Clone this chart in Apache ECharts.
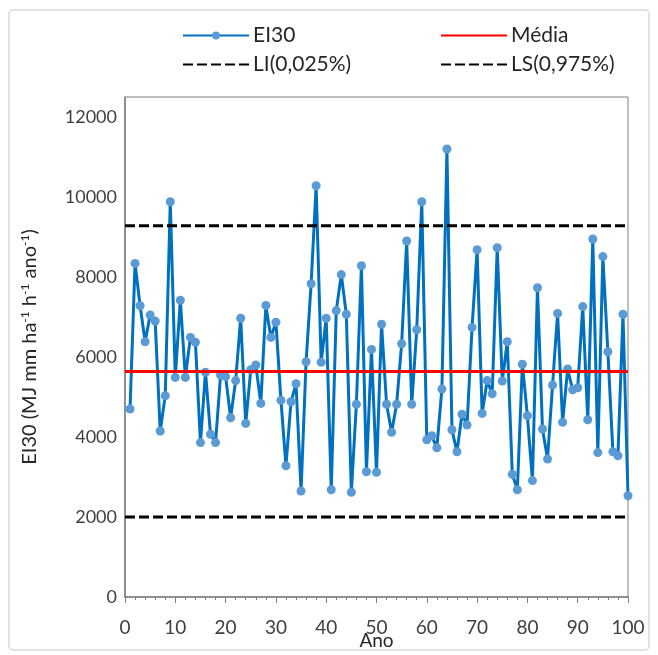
<!DOCTYPE html>
<html>
<head>
<meta charset="utf-8">
<title>EI30</title>
<script src="https://cdn.jsdelivr.net/npm/echarts@6/dist/echarts.min.js"></script>
<style>
html, body { margin: 0; padding: 0; background: #fff; }
#chart { width: 658px; height: 655px; }
</style>
</head>
<body>
<div id="chart"></div>
<script>
// valores (EI30 anual, anos 1..100)
var ei30 = [
  4700, 8340, 7280, 6380, 7050, 6900, 4150, 5030, 9880, 5490,
  7420, 5490, 6490, 6370, 3860, 5620, 4070, 3860, 5550, 5510,
  4480, 5410, 6970, 4340, 5680, 5800, 4840, 7290, 6490, 6870,
  4920, 3280, 4880, 5330, 2650, 5880, 7830, 10280, 5870, 6970,
  2680, 7160, 8060, 7070, 2620, 4820, 8280, 3130, 6190, 3120,
  6820, 4820, 4120, 4820, 6330, 8900, 4820, 6680, 9880, 3930,
  4030, 3730, 5200, 11200, 4180, 3630, 4570, 4300, 6740, 8680,
  4590, 5410, 5080, 8730, 5400, 6380, 3070, 2680, 5820, 4530,
  2910, 7730, 4200, 3450, 5300, 7090, 4370, 5700, 5180, 5230,
  7260, 4430, 8950, 3610, 8510, 6130, 3630, 3530, 7070, 2530
];
var media = 5640;
var li = 2000;
var ls = 9280;
var xLimites = [0, 100];
var yTicks = { min: 0, max: 12500, interval: 2000 };

var fonte = "Lato";
var serieEI30 = [];
for (var i = 0; i < ei30.length; i++) {
  serieEI30.push([i + 1, ei30[i]]);
}
function horizontal(v) {
  return [[xLimites[0], v], [xLimites[1], v]];
}

var myChart = echarts.init(document.getElementById("chart"));

// legenda em 4 blocos (2 linhas x 2 colunas)
function legenda(nome, left, top, semMarcador) {
  var l = {
    data: [nome],
    left: left,
    top: top,
    padding: 0,
    itemWidth: 66,
    itemHeight: 10,
    textStyle: { fontFamily: fonte, fontSize: 21, color: "#262626", padding: [0, 0, 0, -1] }
  };
  if (semMarcador) l.itemStyle = { opacity: 0 };
  return l;
}

var option = {
  animation: false,
  backgroundColor: "#fff",
  graphic: [{
    type: "rect",
    shape: { x: 9, y: 10, width: 640, height: 640, r: 4 },
    style: { fill: "none", stroke: "#d9d9d9", lineWidth: 1.5 },
    silent: true
  }],
  legend: [
    legenda("EI30", 182, 25, false),
    legenda("Média", 440, 25, true),
    legenda("LI(0,025%)", 182, 54, true),
    legenda("LS(0,975%)", 440, 54, true)
  ],
  grid: {
    left: 125, right: 30, top: 97, bottom: 58,
    outerBoundsMode: "none",
    show: true, borderColor: "#7f7f7f", borderWidth: 1
  },
  xAxis: {
    type: "value",
    min: xLimites[0],
    max: xLimites[1],
    interval: 10,
    name: "Ano",
    nameLocation: "middle",
    nameGap: 34,
    nameMoveOverlap: false,
    nameTextStyle: { fontFamily: fonte, fontSize: 19, color: "#262626" },
    axisLine: { lineStyle: { color: "#7f7f7f", width: 1.5 } },
    axisTick: { show: true, length: 6, lineStyle: { color: "#7f7f7f" } },
    minorTick: { show: true, splitNumber: 5, length: 3, lineStyle: { color: "#7f7f7f" } },
    axisLabel: { fontFamily: fonte, fontSize: 19, color: "#404040", margin: 21 },
    splitLine: { show: false }
  },
  yAxis: {
    type: "value",
    min: yTicks.min,
    max: yTicks.max,
    interval: yTicks.interval,
    name: "{a|EI30 (MJ mm ha}{s|-1}{a| h}{s|-1}{a| ano}{s|-1}{a|)}",
    nameLocation: "middle",
    nameGap: 84,
    nameRotate: 90,
    nameMoveOverlap: false,
    nameTextStyle: {
      rich: {
        a: { fontFamily: fonte, fontSize: 20, color: "#262626", lineHeight: 22 },
        s: { fontFamily: fonte, fontSize: 12, color: "#262626", lineHeight: 22, verticalAlign: "top" }
      }
    },
    axisLine: { show: true, lineStyle: { color: "#7f7f7f", width: 1.5 } },
    axisTick: { show: false },
    axisLabel: {
      fontFamily: fonte, fontSize: 18, color: "#404040", margin: 8, showMaxLabel: false,
      formatter: function (v) { return String(v); }
    },
    splitLine: { show: false }
  },
  series: [
    {
      name: "EI30",
      type: "line",
      data: serieEI30,
      z: 2,
      symbol: "circle",
      symbolSize: 9,
      lineStyle: { color: "#0070c0", width: 3 },
      itemStyle: { color: "#5b9bd5" }
    },
    {
      name: "Média",
      type: "line",
      data: horizontal(media),
      z: 3,
      symbol: "none",
      lineStyle: { color: "#ff0000", width: 3 },
      itemStyle: { color: "#ff0000" }
    },
    {
      name: "LI(0,025%)",
      type: "line",
      data: horizontal(li),
      z: 3,
      symbol: "none",
      lineStyle: { color: "#000", width: 3, type: [10, 4] },
      itemStyle: { color: "#000" }
    },
    {
      name: "LS(0,975%)",
      type: "line",
      data: horizontal(ls),
      z: 3,
      symbol: "none",
      lineStyle: { color: "#000", width: 3, type: [10, 4] },
      itemStyle: { color: "#000" }
    }
  ]
};

myChart.setOption(option);
</script>
</body>
</html>
